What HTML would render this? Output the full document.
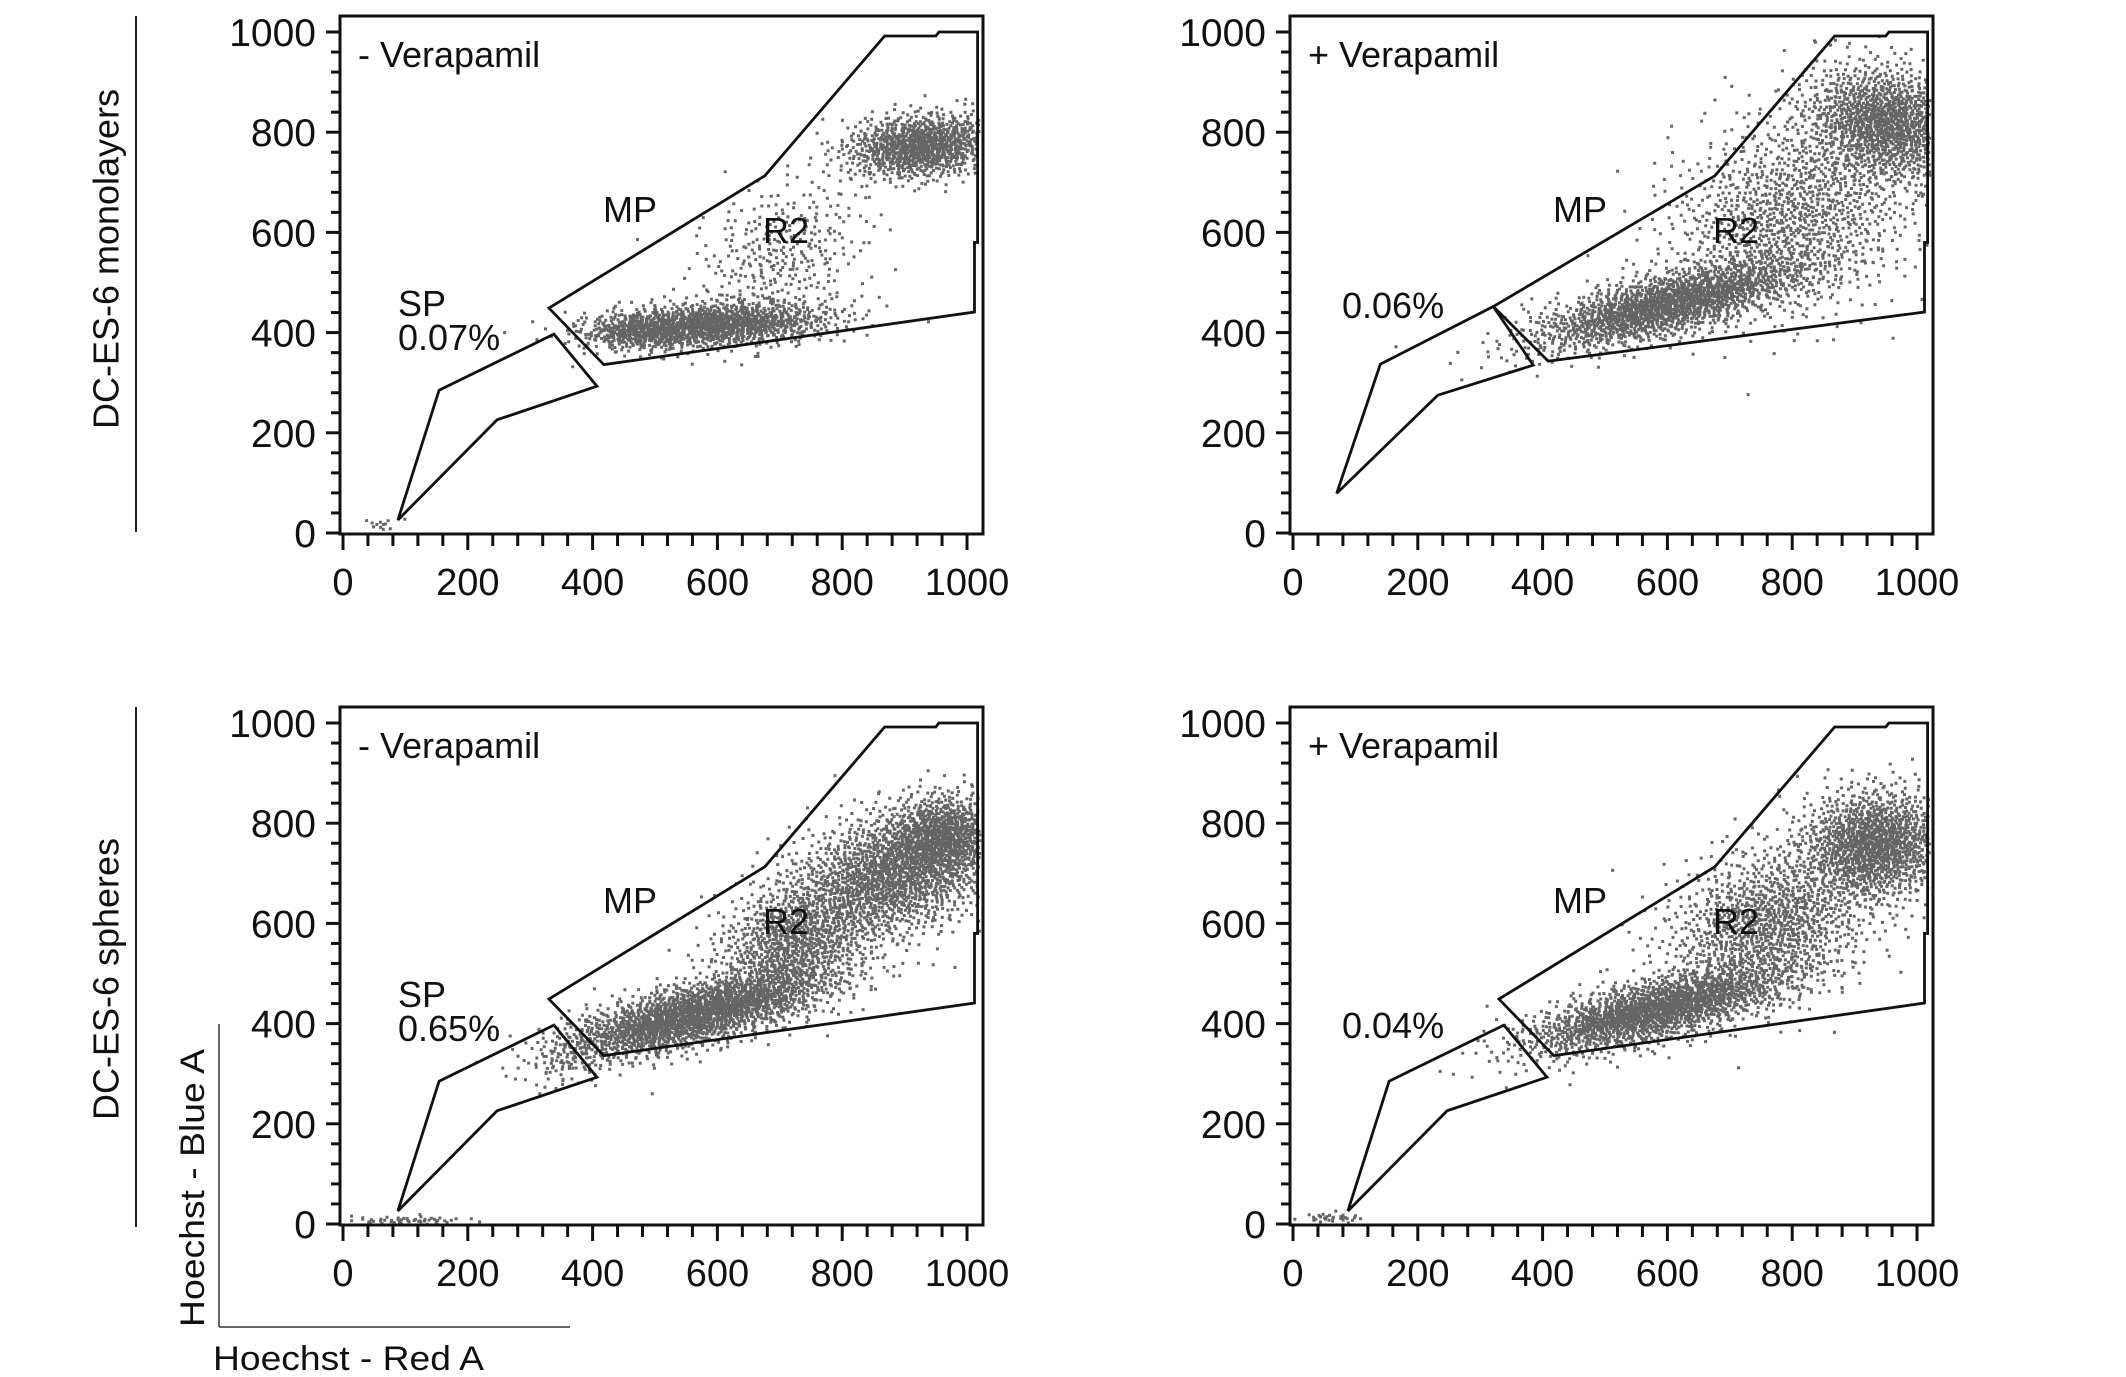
<!DOCTYPE html>
<html><head><meta charset="utf-8"><style>
html,body{margin:0;padding:0;background:#fff}
svg{display:block}
text{font-family:"Liberation Sans",sans-serif;fill:#111}
</style></head><body>
<svg id="fig" width="2126" height="1377" viewBox="0 0 2126 1377" xmlns="http://www.w3.org/2000/svg">
<g>
<line x1="136" y1="16" x2="136" y2="532" stroke="#222" stroke-width="2"/>
<text x="109" y="259" font-size="36" text-anchor="middle" dominant-baseline="middle" transform="rotate(-90 109 259)">DC-ES-6 monolayers</text>
</g>
<g>
<line x1="136" y1="707" x2="136" y2="1227" stroke="#222" stroke-width="2"/>
<text x="109" y="979" font-size="36" text-anchor="middle" dominant-baseline="middle" transform="rotate(-90 109 979)">DC-ES-6 spheres</text>
</g>
<g>
<line x1="219" y1="1024" x2="219" y2="1327" stroke="#333" stroke-width="1.5"/>
<line x1="219" y1="1327" x2="570" y2="1327" stroke="#333" stroke-width="1.5"/>
<text x="204" y="1188" font-size="34" text-anchor="middle" textLength="278" lengthAdjust="spacingAndGlyphs" transform="rotate(-90 204 1188)">Hoechst - Blue A</text>
<text x="213" y="1370" font-size="34" textLength="271" lengthAdjust="spacingAndGlyphs">Hoechst - Red A</text>
</g>
</svg>
<script>
// ---- data ----
const panelTitles = ["- Verapamil", "+ Verapamil", "- Verapamil", "+ Verapamil"];
const spPercents = ["0.07%", "0.06%", "0.65%", "0.04%"];
const showSP = [true, false, true, false];
const tickValues = [0, 200, 400, 600, 800, 1000];
const tickLabels = ["0", "200", "400", "600", "800", "1000"];
// gate polygons in data units [x,y]
const mpGate = [[330,449],[676,713],[868,992],[950,992],[955,1000],[1017,1000],[1017,580],[1012,580],[1012,441],[418,336]];
const spGateA = [[338,397],[154,285],[88,26],[247,226],[407,293]];
const spGateB = [[321,452],[140,337],[70,79],[232,275],[385,335]];
const mpGateB = [[321,452],[676,713],[868,992],[950,992],[955,1000],[1017,1000],[1017,580],[1012,580],[1012,441],[409,343]];
// scatter clusters per panel: [cx, cy, sx(along), sy(across), angleDeg, count]
const clustersTL = [[590,418,95,22,4,1300],[700,560,80,60,50,320],[925,775,62,32,8,1000],[470,405,40,18,0,250],[60,20,15,6,0,12]];
const clustersTR = [[600,460,115,30,18,1800],[800,640,110,90,45,1200],[950,820,55,70,60,1300]];
const clustersBL = [[560,420,110,30,18,2000],[720,560,70,55,45,900],[880,700,90,60,25,1600],[960,780,45,40,20,700],[360,330,35,25,40,60],[100,10,50,4,0,50]];
const clustersBR = [[580,430,110,30,18,1800],[760,600,90,70,40,1200],[930,760,60,55,25,1300],[60,15,25,5,0,30]];
const clusterSets = [clustersTL, clustersTR, clustersBL, clustersBR];
const pctY = [350, 318, 350, 347];
// ---- layout ----
const NS = "http://www.w3.org/2000/svg";
const offsets = [[0,0],[950,0],[0,691],[950,691]];
const fig = document.getElementById('fig');
const X0=343, XS=0.624, Y0=533, YS=0.501;
const sx = v => X0 + v*XS;
const sy = v => Y0 - v*YS;
function mk(tag, attrs, parent){const e=document.createElementNS(NS,tag);for(const k in attrs)e.setAttribute(k,attrs[k]);parent.appendChild(e);return e;}
function halton(i,b){let f=1,r=0;while(i>0){f/=b;r+=f*(i%b);i=Math.floor(i/b);}return r;}
let hcount = 1;
for(let p=0;p<4;p++){
  const g = mk('g',{transform:`translate(${offsets[p][0]},${offsets[p][1]})`},fig);
  
  
  const sc = mk('g',{},g);
  
  
  let d='';
  for(const c of clusterSets[p]){
    const [cx,cy,a,b,ang,n]=c; const t=ang*Math.PI/180;
    for(let i=0;i<n;i++){
      const u1=Math.max(1e-6,halton(hcount,2)), u2=halton(hcount,3); hcount++;
      const r=Math.sqrt(-2*Math.log(u1)); const g1=r*Math.cos(2*Math.PI*u2), g2=r*Math.sin(2*Math.PI*u2);
      const px=cx+g1*a*Math.cos(t)-g2*b*Math.sin(t);
      const py=cy+g1*a*Math.sin(t)+g2*b*Math.cos(t);
      if(px<0||px>1018||py<0||py>1030)continue;
      d+=`M${sx(px).toFixed(1)} ${sy(py).toFixed(1)}h3v3h-3z`;
    }
  }
  mk('path',{d:d,fill:'#4a4a4a','fill-opacity':'0.85'},sc);
  const fr = mk('rect',{x:340,y:16,width:643,height:518,fill:'none',stroke:'#111','stroke-width':3},g);
  
  
  for(let v=0;v<=1000;v+=40){
    const maj = v%200===0;
    mk('line',{x1:340,x2:maj?326:331,y1:sy(v),y2:sy(v),stroke:'#111','stroke-width':3},g);
    mk('line',{x1:sx(v),x2:sx(v),y1:534,y2:maj?550:546,stroke:'#111','stroke-width':3},g);
  }
  for(let i=0;i<tickValues.length;i++){
    const ty = mk('text',{x:316,y:sy(tickValues[i])+14,'font-size':39,'text-anchor':'end'},g);
    ty.textContent = tickLabels[i];
    
    
    const tx = mk('text',{x:sx(tickValues[i]),y:595,'font-size':38,'text-anchor':'middle'},g);
    tx.textContent = tickLabels[i];
    
    
  }
  const mp = (p===1)? mpGateB : mpGate;
  const sp = (p===1)? spGateB : spGateA;
  const mpPath = mk('polygon',{points:mp.map(q=>sx(q[0])+','+sy(q[1])).join(' '),fill:'none',stroke:'#111','stroke-width':2.8},g);
  
  
  const spPath = mk('polygon',{points:sp.map(q=>sx(q[0])+','+sy(q[1])).join(' '),fill:'none',stroke:'#111','stroke-width':2.8},g);
  
  
  const tt = mk('text',{x:358,y:67,'font-size':36},g);
  tt.textContent = panelTitles[p];
  
  
  const mpl = mk('text',{x:630,y:222,'font-size':36,'text-anchor':'middle'},g);
  mpl.textContent='MP';
  
  
  const r2 = mk('text',{x:786,y:243,'font-size':36,'text-anchor':'middle',fill:'#333'},g);
  r2.textContent='R2';
  
  
  if(showSP[p]){
    const spl = mk('text',{x:398,y:316,'font-size':36},g);
    spl.textContent='SP';
    
    
  }
  const pc = mk('text',{x:showSP[p]?398:392,y:pctY[p],'font-size':36},g);
  pc.textContent = spPercents[p];
  
  
}
</script>
</body></html>
